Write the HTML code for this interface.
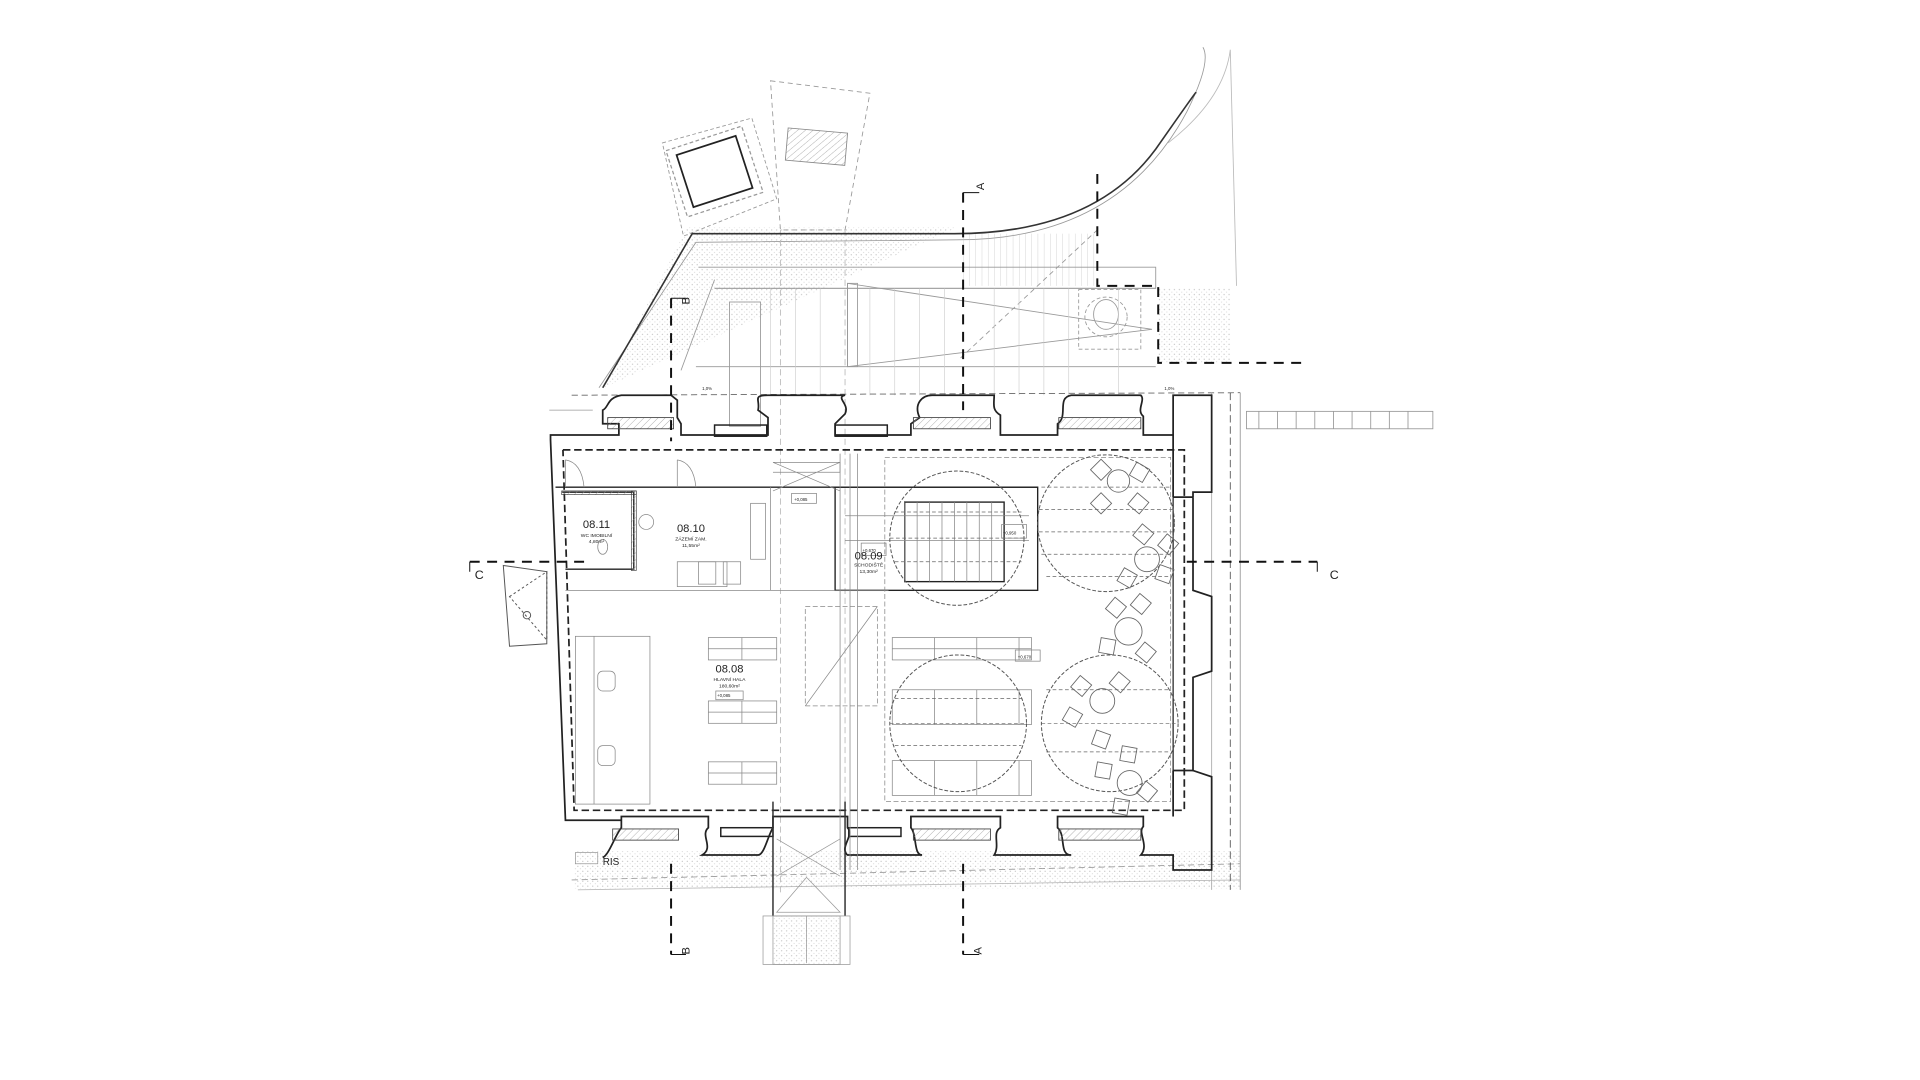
<!DOCTYPE html>
<html><head><meta charset="utf-8"><style>
html,body{margin:0;padding:0;background:#fff;width:1920px;height:1080px;overflow:hidden}
svg{display:block}
text{font-family:"Liberation Sans",sans-serif;fill:#222}
</style></head><body>
<svg width="1920" height="1080" viewBox="0 0 1545 869" preserveAspectRatio="none" xmlns="http://www.w3.org/2000/svg">
<defs>
<pattern id="dots" width="4" height="4" patternUnits="userSpaceOnUse"><circle cx="1" cy="1" r="0.45" fill="#aaa"/><circle cx="3" cy="3" r="0.35" fill="#bbb"/></pattern>
<pattern id="hatch" width="4" height="4" patternUnits="userSpaceOnUse" patternTransform="rotate(45)"><line x1="0" y1="0" x2="0" y2="4" stroke="#999" stroke-width="0.6"/></pattern>
<pattern id="vl" width="5" height="5" patternUnits="userSpaceOnUse"><line x1="0" y1="0" x2="0" y2="5" stroke="#bbb" stroke-width="0.5"/></pattern>
<rect id="ch" x="-6" y="-6" width="12" height="12" fill="none" stroke="#666" stroke-width="0.7"/>
</defs>
<rect width="1545" height="869" fill="#fff"/>
<g fill="none" stroke="#999" stroke-width="0.7">
<path d="M482,312 L560,195 L770,193 Q900,193 955,90 Q975,50 968,38" />
<path d="M477,330 L442,330"/>
<polygon points="486,312 553,183 770,183 Q850,185 880,160 L990,230 L990,290 L930,290 L930,232 L880,232 L880,225 L562,225 L525,312" fill="url(#dots)" stroke="none"/>
<polygon points="932,232 990,232 990,292 932,292" fill="url(#dots)" stroke="none"/>
<rect x="773" y="188" width="110" height="42" fill="url(#vl)" stroke="none"/>
<path d="M575,225 L548,298 M562,215 L930,215 L930,232 L575,232"/>
<path d="M575,232 L930,232"/>
<polygon points="682,228 682,295 927,265" />
<rect x="682" y="228" width="8" height="67"/>
<rect x="587" y="243" width="25" height="100"/>
<line x1="560" y1="295" x2="930" y2="295"/>
<rect x="868" y="233" width="50" height="48" stroke-dasharray="3,2"/>
<ellipse cx="890" cy="253" rx="10" ry="12"/>
<ellipse cx="890" cy="255" rx="17" ry="16" stroke-dasharray="3,2"/>
<line x1="773" y1="288" x2="883" y2="185" stroke-dasharray="4,3"/>
<g stroke="#ccc" stroke-width="0.5"><path d="M620,232V318M640,232V318M660,232V318M700,232V318M720,232V318M740,232V318M760,232V318M800,232V318M820,232V318M840,232V318M860,232V318M900,232V318"/></g>
<polygon points="620,65 700,75 680,185 628,185" stroke-dasharray="4,3"/>
<rect x="633" y="105" width="48" height="26" fill="url(#hatch)" stroke="#888" transform="rotate(5 657 118)"/>
<polygon points="533,115 605,95 625,160 550,190" stroke-dasharray="3,2"/>
<line x1="628" y1="185" x2="628" y2="720" stroke-dasharray="5,3" stroke="#bbb"/>
<line x1="680" y1="185" x2="680" y2="720" stroke-dasharray="5,3" stroke="#bbb"/>
<path d="M940,115 Q985,80 990,40 L995,230" stroke="#bbb"/>
</g>
<path d="M485,312 L557,188 L768,188 Q880,188 930,120 Q965,70 962,75" fill="none" stroke="#333" stroke-width="1.3"/>
<g transform="rotate(-18 575 138)">
<rect x="543" y="110" width="64" height="56" fill="none" stroke="#999" stroke-dasharray="3,2"/>
<rect x="550" y="116" width="50" height="44" fill="none" stroke="#222" stroke-width="1.4"/>
</g>
<g fill="none" stroke="#999" stroke-width="0.7">
<rect x="1003" y="331" width="150" height="14"/>
<path d="M1013,331v14M1028,331v14M1043,331v14M1058,331v14M1073,331v14M1088,331v14M1103,331v14M1118,331v14M1133,331v14"/>
<line x1="460" y1="318" x2="998" y2="316" stroke-dasharray="5,3" stroke="#666"/>
<line x1="460" y1="708" x2="998" y2="695" stroke-dasharray="5,3" stroke="#999"/>
<line x1="465" y1="716" x2="998" y2="708" stroke="#bbb"/>
<rect x="462" y="685" width="536" height="30" fill="url(#dots)" stroke="none"/>
<line x1="998" y1="316" x2="998" y2="716"/>
<line x1="990" y1="316" x2="990" y2="716" stroke-dasharray="6,3" stroke="#555"/>
<line x1="975" y1="316" x2="975" y2="716" stroke="#aaa"/>
</g>
<g fill="none" stroke="#222" stroke-width="1.4">
<path d="M443,354 L443,350 L498,350 L498,341 L485,341 L485,330 C490,328 488,320 500,318 L540,318 L545,322 L545,336 L548,341 L548,350 L618,350 L618,336 L610,330 C612,322 605,318 618,318 L680,318 C672,320 684,325 680,333 L672,341 L672,350 L733,350 L733,341 L740,336 C735,325 742,318 750,318 L800,318 C800,325 798,330 805,334 L805,350 L851,350 L851,341 C860,335 850,320 862,318 L918,318 C922,322 914,330 920,335 L920,350 L944,350 L944,330 L944,318 L975,318 L975,396 L960,396 L960,400"/>
<path d="M960,400 L960,475 L975,480 L975,540 L960,545 L960,620 L975,625 L975,700 L944,700 L944,688 L918,688 C925,680 915,670 920,665 L920,657 L851,657 L851,666 C858,672 852,688 862,688 L800,688 C805,680 798,670 805,666 L805,657 L733,657 L733,666 C738,672 735,688 742,688 L682,688 C675,682 688,672 682,666 L682,657 L622,657 L622,666 C618,672 615,688 610,688 L565,688 C575,682 563,672 570,666 L570,657 L500,657 L500,666 C495,672 490,688 485,690"/>
<path d="M443,354 L455,660 L500,660"/>
<line x1="944" y1="350" x2="944" y2="400"/>
<line x1="944" y1="400" x2="960" y2="400"/>
<line x1="944" y1="657" x2="944" y2="620"/>
<line x1="944" y1="620" x2="960" y2="620"/>
<line x1="944" y1="400" x2="944" y2="620" stroke-width="1"/>
</g>
<g fill="url(#hatch)" stroke="#444" stroke-width="0.7">
<rect x="489" y="336" width="53" height="9"/><rect x="735" y="336" width="62" height="9"/><rect x="852" y="336" width="66" height="9"/>
<rect x="493" y="667" width="53" height="9"/><rect x="735" y="667" width="62" height="9"/><rect x="852" y="667" width="66" height="9"/>
<rect x="575" y="342" width="42" height="9" fill="none" stroke="#222" stroke-width="1.2"/>
<rect x="672" y="342" width="42" height="9" fill="none" stroke="#222" stroke-width="1.2"/>
<rect x="580" y="666" width="42" height="7" fill="none" stroke="#222" stroke-width="1.2"/>
<rect x="683" y="666" width="42" height="7" fill="none" stroke="#222" stroke-width="1.2"/>
</g>
<path d="M453,362 L953,362 L953,652 L462,652 L453,362" fill="none" stroke="#222" stroke-width="1.4" stroke-dasharray="6,3"/>
<g fill="none" stroke="#222" stroke-width="1.1">
<line x1="447" y1="392" x2="835" y2="392"/>
<rect x="672" y="392" width="163" height="83"/>
<rect x="728" y="404" width="80" height="64"/>
<path d="M452,396 L510,396 L510,458 L455,458"/>
</g>
<rect x="452" y="395" width="60" height="3" fill="url(#hatch)" stroke="#333" stroke-width="0.5"/>
<rect x="508" y="395" width="4" height="64" fill="url(#hatch)" stroke="#333" stroke-width="0.5"/>
<g fill="none" stroke="#888" stroke-width="0.6">
<line x1="455" y1="475" x2="672" y2="475"/>
<line x1="620" y1="392" x2="620" y2="475"/><line x1="672" y1="475" x2="715" y2="475"/>
<rect x="604" y="405" width="12" height="45"/>
<rect x="545" y="452" width="40" height="20"/>
<path d="M455,370 Q468,372 470,392 M455,370 L455,392 M545,370 Q558,372 560,392 M545,370L545,392"/>
<path d="M728,404 L728,468 M738,404V468 M748,404V468 M758,404V468 M768,404V468 M778,404V468 M788,404V468 M798,404V468"/>
<line x1="680" y1="415" x2="828" y2="415"/><line x1="680" y1="435" x2="828" y2="435"/>
<rect x="806" y="422" width="20" height="11"/>
<rect x="693" y="437" width="20" height="10"/>
<rect x="637" y="397" width="20" height="8"/>
<line x1="676" y1="365" x2="676" y2="700"/><line x1="684" y1="365" x2="684" y2="700"/><line x1="690" y1="365" x2="690" y2="700"/>
<rect x="712" y="368" width="230" height="277" stroke-dasharray="4,2"/>
<path d="M622,372 L676,372 L676,380 L622,380 M622,372L676,395 M676,372L622,395" />
<polygon points="648,488 706,488 706,568 648,568" stroke-dasharray="4,2"/>
<line x1="648" y1="568" x2="706" y2="488"/>
<rect x="570" y="513" width="55" height="18"/><line x1="597" y1="513" x2="597" y2="531"/><line x1="570" y1="522" x2="625" y2="522"/>
<rect x="570" y="564" width="55" height="18"/><line x1="597" y1="564" x2="597" y2="582"/><line x1="570" y1="573" x2="625" y2="573"/>
<rect x="570" y="613" width="55" height="18"/><line x1="597" y1="613" x2="597" y2="631"/><line x1="570" y1="622" x2="625" y2="622"/>
<rect x="576" y="556" width="22" height="7"/>
<rect x="463" y="512" width="60" height="135"/><line x1="478" y1="512" x2="478" y2="647"/>
<rect x="481" y="540" width="14" height="16" rx="4"/><rect x="481" y="600" width="14" height="16" rx="4"/>
<rect x="718" y="513" width="112" height="18"/><path d="M752,513V531M786,513V531M820,513V531M718,522H830"/>
<rect x="718" y="555" width="112" height="28"/><path d="M752,555V583M786,555V583M820,555V583"/>
<rect x="718" y="612" width="112" height="28"/><path d="M752,612V640M786,612V640M820,612V640"/>
<rect x="817" y="523" width="20" height="9"/>
<circle cx="520" cy="420" r="6"/><ellipse cx="485" cy="440" rx="4" ry="6"/>
<rect x="562" y="452" width="14" height="18"/><rect x="582" y="452" width="14" height="18"/>
</g>
<g fill="none" stroke="#555" stroke-width="0.8" stroke-dasharray="3,1.5">
<circle cx="770" cy="433" r="54"/><circle cx="890" cy="421" r="55"/>
<circle cx="771" cy="582" r="55"/><circle cx="893" cy="582" r="55"/>
</g>
<g fill="none" stroke="#666" stroke-width="0.6" stroke-dasharray="3,2">
<path d="M720,412H822M716,433H824M720,452H822M838,392H942M836,410H944M836,428H944M838,446H942M842,464H940"/>
<path d="M720,562H822M716,582H826M720,600H822M842,555H942M838,582H946M842,605H942"/>
</g>
<g fill="none" stroke="#666" stroke-width="0.7">
<circle cx="900" cy="387" r="9"/><circle cx="923" cy="450" r="10"/><circle cx="908" cy="508" r="11"/><circle cx="887" cy="564" r="10"/><circle cx="909" cy="630" r="10"/>
<use href="#ch" transform="translate(886,378) rotate(45)"/><use href="#ch" transform="translate(917,380) rotate(30)"/>
<use href="#ch" transform="translate(886,405) rotate(45)"/><use href="#ch" transform="translate(916,405) rotate(40)"/>
<use href="#ch" transform="translate(920,430) rotate(40)"/><use href="#ch" transform="translate(940,438) rotate(40)"/>
<use href="#ch" transform="translate(907,465) rotate(30)"/><use href="#ch" transform="translate(937,462) rotate(20)"/>
<use href="#ch" transform="translate(898,489) rotate(40)"/><use href="#ch" transform="translate(918,486) rotate(40)"/>
<use href="#ch" transform="translate(891,520) rotate(10)"/><use href="#ch" transform="translate(922,525) rotate(40)"/>
<use href="#ch" transform="translate(870,552) rotate(40)"/><use href="#ch" transform="translate(901,549) rotate(40)"/>
<use href="#ch" transform="translate(863,577) rotate(30)"/><use href="#ch" transform="translate(886,595) rotate(20)"/>
<use href="#ch" transform="translate(908,607) rotate(10)"/><use href="#ch" transform="translate(888,620) rotate(10)"/>
<use href="#ch" transform="translate(923,637) rotate(40)"/><use href="#ch" transform="translate(902,649) rotate(10)"/>
</g>
<g fill="none" stroke="#555" stroke-width="0.8">
<polygon points="405,455 440,460 440,518 410,520"/>
<path d="M410,480 L440,460 L440,515 Z" stroke-dasharray="2,2"/>
<circle cx="424" cy="495" r="3"/>
</g>
<g fill="none" stroke="#333" stroke-width="1.2">
<line x1="622" y1="645" x2="622" y2="737"/><line x1="680" y1="645" x2="680" y2="737"/>
</g>
<g fill="none" stroke="#999" stroke-width="0.6">
<rect x="614" y="737" width="70" height="39"/>
<rect x="622" y="737" width="54" height="39" fill="url(#dots)"/>
<line x1="649" y1="737" x2="649" y2="775"/>
<polygon points="649,706 625,734 676,734"/>
<path d="M625,675 L676,705 M676,675 L625,705"/>
<rect x="463" y="686" width="18" height="9"/>
</g>
<g fill="none" stroke="#111" stroke-width="1.6" stroke-dasharray="8,6">
<path d="M775,155 L775,330"/>
<path d="M775,695 L775,768"/>
<path d="M540,240 L540,355"/>
<path d="M540,695 L540,768"/>
<path d="M378,452 L470,452"/>
<path d="M955,452 L1060,452"/>
<path d="M883,140 L883,230 L932,230 L932,292 L1048,292"/>
</g>
<g stroke="#111" stroke-width="0.8" fill="none">
<path d="M775,155 L788,155 M540,240 L552,240 M540,768 L552,768 M775,768 L788,768 M378,452 L378,460 M1060,452 L1060,460"/>
</g>
<g font-size="9">
<text x="786" y="153" transform="rotate(-90 789 150)">A</text>
<text x="551" y="247" transform="rotate(-90 552 244)">B</text>
<text x="551" y="770" transform="rotate(-90 552 767)">B</text>
<text x="786" y="770" transform="rotate(-90 787 767)">A</text>
<text x="382" y="466" font-size="10">C</text>
<text x="1070" y="466" font-size="10">C</text>
<text x="485" y="696" font-size="8">RIS</text>
</g>
<g text-anchor="middle">
<text x="480" y="425" font-size="9">08.11</text><text x="480" y="432" font-size="4">WC IMOBILNÍ</text><text x="480" y="437" font-size="4" fill="#666">4,80m²</text>
<text x="556" y="428" font-size="9">08.10</text><text x="556" y="435" font-size="4">ZÁZEMÍ ZAM.</text><text x="556" y="440" font-size="4" fill="#666">11,55m²</text>
<text x="699" y="450" font-size="9">08.09</text><text x="699" y="456" font-size="4">SCHODIŠTĚ</text><text x="699" y="461" font-size="4" fill="#666">13,30m²</text>
<text x="587" y="541" font-size="9">08.08</text><text x="587" y="548" font-size="4">HLAVNÍ HALA</text><text x="587" y="553" font-size="4" fill="#666">180,60m²</text>
</g>
<g font-size="3.5" fill="#666">
<text x="577" y="561">+0,085</text><text x="639" y="403">+0,085</text><text x="807" y="430">+0,950</text><text x="694" y="444">+0,670</text><text x="819" y="530">+0,670</text>
<text x="565" y="314">1,0%</text><text x="937" y="314">1,0%</text>
</g>
</svg>
</body></html>
